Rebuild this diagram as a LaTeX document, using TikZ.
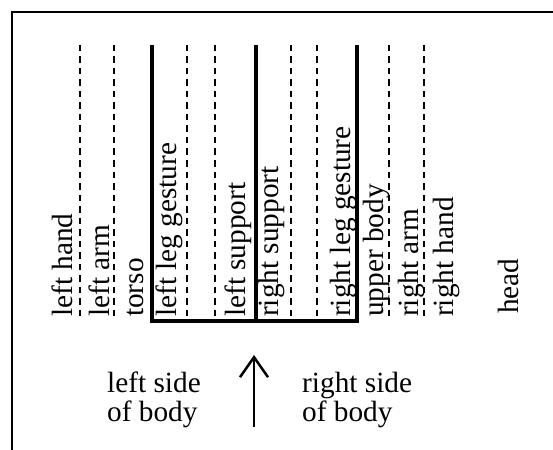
\documentclass[tikz,border=0pt]{standalone}
\usepackage{fontspec}
\setmainfont{Liberation Serif}
\usetikzlibrary{arrows.meta}
\begin{document}
\begin{tikzpicture}[x=1pt,y=-1pt,
  lbl/.style={rotate=90,anchor=base west,inner sep=0pt,font=\fontsize{29.3}{29}\selectfont},
  side/.style={align=left,anchor=base west,inner sep=0pt,font=\fontsize{29.3}{29}\selectfont},
  track/.style={line width=2pt,dash pattern=on 6.5pt off 5pt},
  bar/.style={line width=4.5pt},
  frame/.style={line width=2.5pt}]
\useasboundingbox (0,0) rectangle (553,449);
% frame
\draw[frame] (12,470) -- (12,12) -- (570,12);
% dashed tracks
\foreach \x in {80,114,187,215,291,317,389,424}
  \draw[track] (\x,45) -- (\x,320);
% thick support columns
\draw[bar] (152,45) -- (152,321) -- (357,321) -- (357,45);
\draw[bar] (256,45) -- (256,321);
% labels
\node[lbl] (lh) at (72,317) {left hand};
\node[lbl] (la) at (109,317) {left arm};
\node[lbl] (to) at (143,317) {torso};
\node[lbl] (llg) at (176,317) {left leg gesture};
\node[lbl] (ls) at (245,317) {left support};
\node[lbl] (rs) at (278,317) {right support};
\node[lbl] (rlg) at (350,317) {right leg gesture};
\node[lbl] (ub) at (383,317) {upper body};
\node[lbl] (ra) at (418,317) {right arm};
\node[lbl] (rh) at (453,317) {right hand};
\node[lbl] (hd) at (518,314) {head};
% sides
\node[side] (lside) at (107,421) {left side\\of body};
\node[side] (rside) at (302,421) {right side\\of body};
% arrow
\coordinate (arrB) at (254,427);
\coordinate (arrT) at (254,355);
\draw[line width=2pt,-{Straight Barb[length=20pt,width=28pt,line width=2.5pt]}] (arrB) -- (arrT);
\end{tikzpicture}
\end{document}
